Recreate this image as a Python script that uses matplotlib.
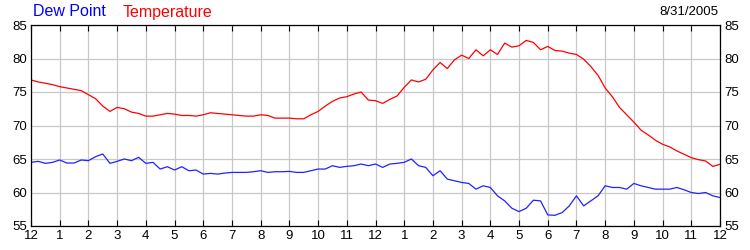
import matplotlib.pyplot as plt
import numpy as np

# readings every 15 minutes, midnight to midnight
hours = np.arange(0, 24.01, 0.25)

temperature = [
    76.8, 76.5, 76.3, 76.1, 75.8, 75.6, 75.4, 75.2,
    74.6, 74.0, 72.9, 72.1, 72.7, 72.5, 72.0, 71.8,
    71.4, 71.4, 71.6, 71.8, 71.7, 71.5, 71.5, 71.4,
    71.6, 71.9, 71.8, 71.7, 71.6, 71.5, 71.4, 71.4,
    71.6, 71.5, 71.1, 71.1, 71.1, 71.0, 71.0, 71.6,
    72.1, 72.9, 73.6, 74.1, 74.3, 74.7, 75.0, 73.8,
    73.7, 73.3, 73.9, 74.4, 75.7, 76.8, 76.5, 76.9,
    78.3, 79.4, 78.5, 79.8, 80.5, 80.0, 81.3, 80.4,
    81.3, 80.6, 82.3, 81.7, 81.9, 82.7, 82.4, 81.3,
    81.8, 81.2, 81.1, 80.8, 80.6, 79.9, 78.8, 77.5,
    75.6, 74.3, 72.7, 71.6, 70.5, 69.3, 68.6, 67.8,
    67.2, 66.8, 66.2, 65.7, 65.2, 64.9, 64.7, 63.9,
    64.2,
]

dew_point = [
    64.5, 64.65, 64.35, 64.5, 64.85, 64.4, 64.4, 64.85,
    64.75, 65.35, 65.75, 64.35, 64.65, 65.0, 64.75, 65.25,
    64.35, 64.5, 63.5, 63.85, 63.35, 63.85, 63.25, 63.35,
    62.75, 62.85, 62.75, 62.9, 63.0, 63.0, 63.0, 63.1,
    63.25, 63.0, 63.1, 63.1, 63.15, 63.0, 63.0, 63.25,
    63.5, 63.5, 64.0, 63.75, 63.9, 64.0, 64.25, 64.0,
    64.25, 63.75, 64.25, 64.35, 64.5, 65.0, 64.0, 63.75,
    62.5, 63.25, 62.0, 61.75, 61.5, 61.35, 60.5, 61.0,
    60.75, 59.5, 58.75, 57.65, 57.15, 57.65, 58.85, 58.75,
    56.65, 56.6, 57.0, 58.0, 59.5, 58.0, 58.75, 59.5,
    61.0, 60.75, 60.75, 60.5, 61.35, 61.0, 60.75, 60.5,
    60.5, 60.5, 60.75, 60.4, 60.0, 59.85, 60.0, 59.5,
    59.25,
]

hour_labels = ["12", "1", "2", "3", "4", "5", "6", "7", "8", "9", "10", "11",
               "12", "1", "2", "3", "4", "5", "6", "7", "8", "9", "10", "11", "12"]

plt.rcParams['font.family'] = ['Liberation Sans', 'DejaVu Sans']

fig = plt.figure(figsize=(7.5, 2.5), dpi=100)
ax = fig.add_axes([31 / 750, 1 - 226 / 250, 689 / 750, 201 / 250])

ax.plot(hours, temperature, color='#ff0000', lw=0.9)
ax.plot(hours, dew_point, color='#2222ff', lw=0.9)

ax.set_xlim(0, 24)
ax.set_ylim(55, 85)
ax.set_xticks(range(25))
ax.set_xticklabels(hour_labels)
ax.set_yticks(range(55, 86, 5))
ax.grid(True, color='#c8c8c8', lw=0.9)
ax.set_axisbelow(True)

ax.tick_params(axis='x', direction='in', top=True, bottom=True, length=4,
               labelsize=9.5, pad=3, width=0.8)
ax.tick_params(axis='y', direction='in', left=False, right=False,
               labelleft=True, labelright=True, labelsize=9.5, pad=3)
for s in ax.spines.values():
    s.set_linewidth(0.9)

fig.text(33 / 750, 1 - 12 / 250, "Dew Point", color='#0000ff', fontsize=11.5, va='center')
fig.text(123 / 750, 1 - 12 / 250, "Temperature", color='#ff0000', fontsize=11.5, va='center')
fig.text(718 / 750, 1 - 12 / 250, "8/31/2005", color='black', fontsize=9.5,
         va='center', ha='right')

plt.savefig("out.png", dpi=100)
